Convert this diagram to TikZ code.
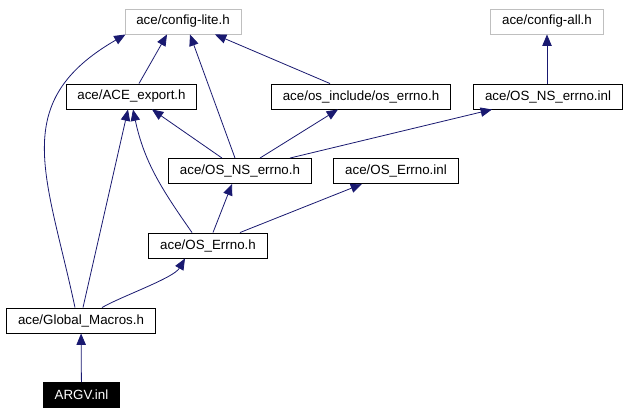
\documentclass[tikz,border=0pt]{standalone}
\usepackage{fontspec}
\setmainfont{Liberation Sans}
\usetikzlibrary{calc}
\usetikzlibrary{arrows.meta}
\definecolor{edgeblue}{RGB}{25,25,112}
\definecolor{boxgray}{RGB}{191,191,191}
\tikzset{
  file/.style={draw=black, line width=0.7pt, inner xsep=8.5pt, inner ysep=0pt, minimum height=18.75pt, font=\fontsize{10}{12}\selectfont},
  extfile/.style={file, draw=boxgray},
  thisfile/.style={file, fill=black, text=white},
  edge/.style={draw=edgeblue, line width=0.6pt, -{Triangle[length=8.5pt,width=7pt]}, edgeblue}
}
\begin{document}
\begin{tikzpicture}[x=0.75pt, y=-0.75pt]
\useasboundingbox (0,0) rectangle (628,415);
\node[extfile] (cl) at (183,21.5) {ace/config-lite.h};
\node[extfile] (ca) at (547,21.5) {ace/config-all.h};
\node[file] (acex) at (131.5,96.5) {ace/ACE\_export.h};
\node[file] (oserr) at (361,96.5) {ace/os\_include/os\_errno.h};
\node[file] (nsinl) at (548,96.5) {ace/OS\_NS\_errno.inl};
\node[file] (nsh) at (240,171) {ace/OS\_NS\_errno.h};
\node[file] (oeinl) at (396,171) {ace/OS\_Errno.inl};
\node[file] (oeh) at (208,245.5) {ace/OS\_Errno.h};
\node[file] (gm) at (81,320.5) {ace/Global\_Macros.h};
\node[thisfile] (argv) at (81.5,395) {ARGV.inl};

\draw[edge] (argv) -- (gm);
\draw[edge] ($(gm.north)+(-6,0)$) to [out=102, in=210, looseness=1.25] ($(cl.south west)+(1,0)$);
\draw[edge] ($(gm.north)+(2,0)$) -- ($(acex.south)+(-3.5,0)$);
\draw[edge] ($(gm.north)+(21,0)$) to [out=30, in=240, looseness=.6] ($(oeh.south)+(-23,0)$);
\draw[edge] ($(oeh.north)+(-16,0)$) to [out=125, in=-78] ($(acex.south)+(1.5,0)$);
\draw[edge] ($(oeh.north)+(5,0)$) -- ($(nsh.south)+(-8,0)$);
\draw[edge] ($(oeh.north)+(32,0)$) -- ($(oeinl.south)+(-34,0)$);
\draw[edge] ($(nsh.north)+(-18,0)$) -- ($(acex.south)+(20.5,0)$);
\draw[edge] ($(nsh.north)+(-5,0)$) -- ($(cl.south)+(7,0)$);
\draw[edge] ($(nsh.north)+(20,0)$) -- ($(oserr.south)+(-23,0)$);
\draw[edge] ($(nsh.north)+(50,0)$) -- ($(nsinl.south)+(-56,0)$);
\draw[edge] ($(acex.north)+(7.5,0)$) -- ($(cl.south)+(-16,0)$);
\draw[edge] ($(oserr.north)+(-31,0)$) -- ($(cl.south)+(32,0)$);
\draw[edge] ($(nsinl.north)+(-1,0)$) -- (ca.south);

\end{tikzpicture}
\end{document}
